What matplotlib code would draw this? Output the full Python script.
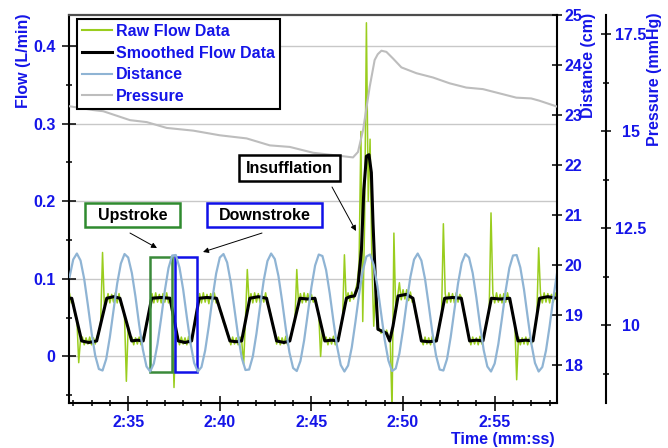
import numpy as np
import matplotlib
matplotlib.use('Agg')
import matplotlib.pyplot as plt
from matplotlib.patches import Rectangle
from matplotlib.lines import Line2D
from matplotlib.ticker import FuncFormatter, MultipleLocator, FixedLocator

plt.rcParams['font.family'] = ['Liberation Sans', 'DejaVu Sans']
plt.rcParams['font.weight'] = 'bold'
plt.rcParams['font.size'] = 11.5

BLUE = '#1515e8'
GREEN = '#9acd1e'
DIST_C = '#8fb4d4'
PRESS_C = '#bdbdbd'
FS = 11.5

# raw flow, one sample every 0.1 s starting at 2:31.8 (L/min)
raw_t0 = 151.8
raw_flow = [
    .081, .069, .070, .053, .049, -.008, .023, .025, .015, .024,
    .016, .025, .015, .024, .016, .026, .029, .045, .134, .065,
    .068, .081, .069, .080, .070, .082, .069, .081, .066, .064,
    .051, -.032, .039, .025, .025, .015, .024, .016, .025, .015,
    .024, .027, .044, .051, .068, .081, .069, .082, .070, .080,
    .069, .081, .070, .082, .069, .076, .058, -.040, .033, .026,
    .015, .025, .016, .024, .015, .026, .016, .028, .036, .055,
    .063, .081, .069, .082, .070, .080, .068, .081, .070, .082,
    .069, .072, .059, .056, .044, .041, .029, .026, .015, .025,
    .016, .024, .015, .025, .018, -.010, .048, .112, .068, .081,
    .069, .082, .070, .081, .069, .080, .070, .082, .067, .062,
    .052, .038, .032, .016, .025, .015, .024, .016, .026, .015,
    .024, .026, .040, .046, .112, .066, .081, .069, .082, .070,
    .081, .069, .080, .070, .076, .062, .055, .000, .035, .021,
    .025, .015, .024, .016, .026, .015, .024, .024, .040, .048,
    .131, .070, .082, .071, .083, .074, .085, .095, .120, .290,
    .045, .170, .430, .200, .280, .120, .039, .090, .035, .036,
    .030, .036, .028, .034, .026, .022, -.070, .159, .058, .077,
    .095, .073, .086, .074, .086, .072, .083, .070, .070, .052,
    .046, .030, .022, .015, .025, .016, .024, .015, .026, .016,
    .024, .028, .044, .052, .171, .081, .069, .082, .070, .081,
    .069, .082, .070, .080, .075, .058, .050, .034, .026, .015,
    .025, .016, .024, .015, .026, .016, .027, .035, .050, .059,
    .185, .081, .069, .082, .070, .080, .069, .081, .070, .082,
    .070, .066, .051, .042, -.030, .025, .015, .024, .016, .025,
    .015, .024, .016, .023, .038, .050, .140, .081, .069, .082,
    .070, .081, .069, .080, .070, .082, .075,
]

# smoothed flow (s, L/min)
smooth_t = [151.77, 151.92, 152.46, 152.85, 153.28, 153.83, 154.2, 154.55,
            155.19, 155.5, 155.82, 156.28, 156.8, 157.28, 157.73, 158.1,
            158.46, 158.87, 159.3, 159.82, 160.55, 160.9, 161.19, 161.64,
            162.1, 162.55, 163.10, 163.5, 163.82, 164.37, 164.8, 165.19,
            165.73, 166.1, 166.45, 166.91, 167.09, 167.35, 167.54, 167.73,
            167.86, 168.00, 168.14, 168.27, 168.36, 168.51, 168.63, 169.09,
            169.27, 169.45, 169.73, 170.18, 170.54, 171.00, 171.4, 171.82,
            172.27, 172.7, 173.18, 173.63, 174.0, 174.36, 174.82, 175.3,
            175.82, 176.27, 176.7, 177.09, 177.45, 177.9, 178.40]
smooth_flow = [.075, .075, .020, .018, .020, .075, .077, .075,
               .020, .021, .020, .075, .076, .075, .020, .018,
               .020, .075, .076, .075, .020, .019, .020, .075,
               .077, .075, .020, .018, .020, .075, .074, .075,
               .020, .021, .020, .075, .077, .078, .090, .138,
               .215, .258, .260, .237, .172, .086, .035, .030,
               .020, .039, .078, .080, .075, .020, .019, .020,
               .075, .076, .075, .020, .021, .020, .075, .074,
               .075, .020, .021, .020, .075, .077, .075]

# distance, one sample every 0.2 s starting at 2:31.8 (cm)
dist_t0 = 151.8
distance = [
    19.76, 20.11, 20.23, 20.09, 19.72, 19.20, 18.65, 18.19, 17.92, 17.89,
    18.12, 18.56, 19.10, 19.63, 20.03, 20.22, 20.15, 19.84, 19.36, 18.80,
    18.31, 17.97, 17.87, 18.03, 18.42, 18.94, 19.49, 19.94, 20.19, 20.20,
    19.95, 19.51, 18.96, 18.44, 18.04, 17.87, 17.96, 18.29, 18.78, 19.34,
    19.83, 20.15, 20.22, 20.05, 19.65, 19.12, 18.58, 18.14, 17.90, 17.91,
    18.17, 18.63, 19.18, 19.70, 20.08, 20.23, 20.12, 19.78, 19.28, 18.73,
    18.25, 17.94, 17.88, 18.08, 18.49, 19.02, 19.56, 19.99, 20.21, 20.18,
    19.90, 19.43, 18.88, 18.37, 18.00, 17.87, 17.99, 18.35, 18.86, 19.41,
    19.88, 20.17, 20.21, 20.00, 19.58, 19.04, 18.50, 18.09, 17.88, 17.93,
    18.23, 18.71, 19.26, 19.76, 20.11, 20.23, 20.09, 19.72, 19.20, 18.65,
    18.19, 17.91, 17.89, 18.12, 18.56, 19.10, 19.63, 20.04, 20.22, 20.15,
    19.84, 19.35, 18.80, 18.30, 17.97, 17.87, 18.03, 18.42, 18.94, 19.49,
    19.94, 20.19, 20.20, 19.95, 19.51, 18.96, 18.43, 18.04, 17.87, 17.96,
    18.29, 18.78, 19.34, 19.83,
]

# pressure (s, mmHg)
press_t = [151.77, 153.10, 153.64, 155.10, 156.01, 157.10, 158.55, 160.00,
           161.46, 162.73, 163.82, 165.09, 166.18, 167.27, 167.54, 167.82,
           168.18, 168.45, 168.62, 168.82, 169.09, 169.45, 169.91, 170.73,
           171.63, 172.54, 173.45, 174.36, 175.27, 176.18, 176.99, 177.45,
           178.40]
press = [15.65, 15.55, 15.52, 15.29, 15.24, 15.09, 15.02, 14.90,
         14.82, 14.64, 14.60, 14.45, 14.39, 14.33, 14.47, 15.04,
         16.15, 16.84, 16.99, 17.08, 17.05, 16.88, 16.65, 16.50,
         16.39, 16.24, 16.13, 16.09, 15.98, 15.87, 15.85, 15.79,
         15.64]

flow_ticks = [0, 0.1, 0.2, 0.3, 0.4]
flow_labels = ['0', '0.1', '0.2', '0.3', '0.4']
dist_ticks = [18, 19, 20, 21, 22, 23, 24, 25]
press_ticks = [10, 12.5, 15, 17.5]
press_labels = ['10', '12.5', '15', '17.5']
time_ticks = [155, 160, 165, 170, 175]

raw_time = raw_t0 + 0.1 * np.arange(len(raw_flow))
dist_time = dist_t0 + 0.2 * np.arange(len(distance))

fig = plt.figure(figsize=(6.68, 4.48), dpi=100)
ax = fig.add_axes([0.1033, 0.1004, 0.7305, 0.8661])
ax2 = ax.twinx()
ax3 = ax.twinx()

ax.plot(raw_time, raw_flow, color=GREEN, lw=1.1)
ax.plot(smooth_t, smooth_flow, color='black', lw=2.2)
ax2.plot(dist_time, distance, color=DIST_C, lw=1.6)
ax3.plot(press_t, press, color=PRESS_C, lw=1.5)

# flow axis
ax.set_xlim(151.77, 178.4)
ax.set_ylim(-0.06, 0.44)
ax.set_yticks(flow_ticks, flow_labels)
ax.yaxis.set_minor_locator(FixedLocator([-0.05, 0.05, 0.15, 0.25, 0.35]))
ax.grid(axis='y', which='major', color='#c8c8c8', lw=1)
ax.set_axisbelow(True)
ax.tick_params(axis='y', which='major', direction='inout', length=9.4, width=1.1,
               pad=5.0, labelcolor=BLUE, labelsize=FS)
ax.tick_params(axis='y', which='minor', direction='inout', length=5, width=1.1)

ax.set_xticks(time_ticks)
ax.xaxis.set_major_formatter(FuncFormatter(lambda v, p: f'{int(v // 60)}:{int(round(v % 60)):02d}'))
ax.xaxis.set_minor_locator(MultipleLocator(1))
ax.tick_params(axis='x', which='major', direction='inout', length=10.8, width=1.1,
               pad=3.3, labelcolor=BLUE, labelsize=FS)
ax.tick_params(axis='x', which='minor', direction='inout', length=4.8, width=1.1)

ax.spines['top'].set_color('#4d4d4d')
ax.spines['top'].set_linewidth(1.6)
ax.spines['left'].set_linewidth(1.5)
ax.spines['bottom'].set_linewidth(1.5)
ax.spines['right'].set_visible(False)

# distance axis
ax2.set_ylim(17.24, 25)
ax2.set_yticks(dist_ticks)
ax2.tick_params(axis='y', direction='inout', length=6.5, width=1.1, pad=2.5,
                labelcolor=BLUE, labelsize=FS)
for s in ['top', 'left', 'bottom']:
    ax2.spines[s].set_visible(False)
ax2.spines['right'].set_linewidth(1.5)

# pressure axis, offset to the right
ax3.spines['right'].set_position(('axes', 1.1004))
for s in ['top', 'left', 'bottom']:
    ax3.spines[s].set_visible(False)
ax3.spines['right'].set_linewidth(1.5)
ax3.set_ylim(8, 18)
ax3.set_yticks(press_ticks, press_labels, ha='center')
ax3.yaxis.set_minor_locator(FixedLocator([8.75, 11.25, 13.75, 16.25]))
ax3.tick_params(axis='y', which='major', direction='inout', length=7.2, width=1.1,
                pad=14.4, labelcolor=BLUE, labelsize=FS)
ax3.tick_params(axis='y', which='minor', direction='inout', length=4.8, width=1.1)

# axis titles
fig.text(24 / 668, 1 - 14 / 448, 'Flow (L/min)', rotation=90, ha='center', va='top',
         color=BLUE, fontsize=FS)
fig.text(589 / 668, 1 - 13 / 448, 'Distance (cm)', rotation=90, ha='center', va='top',
         color=BLUE, fontsize=FS)
fig.text(654 / 668, 1 - 13 / 448, 'Pressure (mmHg)', rotation=90, ha='center', va='top',
         color=BLUE, fontsize=FS)
fig.text(555 / 668, 1 - 439.5 / 448, 'Time (mm:ss)', ha='right', va='center',
         color=BLUE, fontsize=FS)

# upstroke / downstroke windows on the distance trace
ax2.add_patch(Rectangle((156.2, 17.87), 1.2, 2.29, fill=False, ec='#3a8a3a', lw=1.8))
ax2.add_patch(Rectangle((157.55, 17.87), 1.2, 2.29, fill=False, ec='#1010e8', lw=1.8))

# callout boxes
boxes = [
    ('Insufflation', 0.3484, 0.5722, 0.2069, 0.0670, 'black'),
    ('Upstroke', 0.0328, 0.4536, 0.1947, 0.0619, '#2f8a2f'),
    ('Downstroke', 0.2828, 0.4536, 0.2356, 0.0619, '#1010e8'),
]
for txt, x0, y0, w, h, ec in boxes:
    ax3.add_patch(Rectangle((x0, y0), w, h, transform=ax3.transAxes, fc='white',
                            ec=ec, lw=1.8, clip_on=False, zorder=4))
    ax3.text(x0 + w / 2, y0 + h / 2, txt, transform=ax3.transAxes, ha='center',
             va='center', color='black', fontsize=FS, zorder=5)

arrows = [
    ((0.539, 0.5567), (0.5881, 0.4433)),
    ((0.125, 0.4381), (0.1803, 0.3995)),
    ((0.3955, 0.4381), (0.2746, 0.3892)),
]
for tail, tip in arrows:
    ax3.annotate('', xy=tip, xytext=tail, xycoords='axes fraction',
                 arrowprops=dict(arrowstyle='-|>', color='black', lw=0.7,
                                 mutation_scale=8, shrinkA=0, shrinkB=0))

handles = [Line2D([], [], color=GREEN, lw=1.5),
           Line2D([], [], color='black', lw=2.2),
           Line2D([], [], color=DIST_C, lw=1.5),
           Line2D([], [], color=PRESS_C, lw=1.5)]
leg = ax3.legend(handles, ['Raw Flow Data', 'Smoothed Flow Data', 'Distance', 'Pressure'],
                 loc='upper left', bbox_to_anchor=(0.0164, 0.9897), borderaxespad=0,
                 fancybox=False, framealpha=1, edgecolor='black', labelcolor=BLUE,
                 handlelength=1.9, handletextpad=0.25, labelspacing=0.42, borderpad=0.3,
                 fontsize=FS)
leg.get_frame().set_linewidth(1.5)
leg.set_zorder(6)

fig.savefig('out.png', dpi=100)
